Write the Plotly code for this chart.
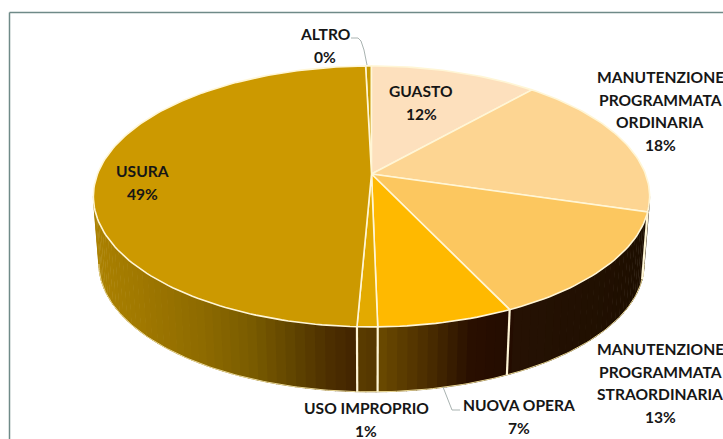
import numpy as np
import plotly.graph_objects as go

# Slices in clockwise order, starting just left of twelve o'clock
categories = ["ALTRO", "GUASTO", "MANUTENZIONE PROGRAMMATA ORDINARIA",
              "MANUTENZIONE PROGRAMMATA STRAORDINARIA", "NUOVA OPERA",
              "USO IMPROPRIO", "USURA"]
shares = [0.4, 11.5, 18.1, 13.4, 6.7, 1.0, 48.9]
top_colors = ["#c79a00", "#fde0bd", "#fdd592", "#fcc75f", "#ffb900", "#e3aa00", "#cc9900"]
label_lines = [["ALTRO"], ["GUASTO"], ["MANUTENZIONE", "PROGRAMMATA", "ORDINARIA"],
               ["MANUTENZIONE", "PROGRAMMATA", "STRAORDINARIA"], ["NUOVA OPERA"],
               ["USO IMPROPRIO"], ["USURA"]]
label_x = [325, 421, 660, 660, 519, 366, 142]
label_y = [34, 91, 77, 349, 405, 408, 171]

# Shading of the outer wall, left to right across the pie
wall_x = [92, 140, 200, 250, 300, 330, 356, 358, 377, 378, 430, 470, 511, 512, 650]
wall_rgb = [(172, 130, 0), (160, 120, 0), (142, 107, 0), (122, 92, 0), (92, 64, 0),
            (76, 46, 0), (66, 36, 0), (90, 60, 0), (85, 55, 0), (107, 74, 0),
            (74, 44, 0), (42, 16, 0), (36, 12, 0), (38, 18, 4), (30, 15, 0)]

# Projection of the tilted disc onto the page
CX, CY = 371.5, 174.0
RX, RY, TILT = 274.0, 126.6, 0.172
WALL_DROP, WALL_SCALE = 68.0, 0.98
START_PCT = -0.4
RIM = "#fff6d6"


def project(pct, drop=0.0, scale=1.0):
    t = np.radians((np.asarray(pct, dtype=float) + START_PCT) * 3.6)
    w = 1 + TILT * np.cos(t)
    return CX + scale * RX * np.sin(t) / w, CY + drop - scale * RY * np.cos(t) / w


fig = go.Figure()
common = dict(mode="lines", hoverinfo="skip", showlegend=False)
edges = np.concatenate([[0], np.cumsum(shares)])

# Wall strips, only the part of the rim that faces the viewer
tangent = np.degrees(np.arccos(-TILT))
step = 0.5
pct_start = tangent / 3.6 - START_PCT
pct_end = (360 - tangent) / 3.6 - START_PCT
strips = np.arange(pct_start, pct_end, step)
for a in strips:
    b = min(a + step + 0.05, pct_end)
    arc = np.linspace(a, b, 4)
    xt, yt = project(arc)
    xb, yb = project(arc[::-1], WALL_DROP, WALL_SCALE)
    mid = project((a + b) / 2)[0]
    rgb = [int(np.interp(mid, wall_x, [c[i] for c in wall_rgb])) for i in range(3)]
    color = f"rgb({rgb[0]},{rgb[1]},{rgb[2]})"
    fig.add_trace(go.Scatter(x=np.r_[xt, xb], y=np.r_[yt, yb], fill="toself", fillcolor=color,
                             line=dict(color=color, width=0.6), **common))

# Thin pale edge along the foot of the wall
arc = np.linspace(pct_start, pct_end, 200)
xb, yb = project(arc, WALL_DROP, WALL_SCALE)
fig.add_trace(go.Scatter(x=xb, y=yb, line=dict(color="#e9d795", width=1), **common))

# Seams on the wall where slices meet
for e in edges[1:-1]:
    if pct_start < e < pct_end:
        xt, yt = project(e)
        xb, yb = project(e, WALL_DROP, WALL_SCALE)
        fig.add_trace(go.Scatter(x=[xt, xb], y=[yt, yb], line=dict(color=RIM, width=2.2), **common))

# Top face of each slice
for i, color in enumerate(top_colors):
    arc = np.linspace(edges[i], edges[i + 1], max(4, int(shares[i] * 3)))
    x, y = project(arc)
    fig.add_trace(go.Scatter(x=np.r_[CX, x, CX], y=np.r_[CY, y, CY], fill="toself", fillcolor=color,
                             line=dict(color=RIM, width=1.6), **common))

# Leader lines for the two labels set away from their slices
fig.add_trace(go.Scatter(x=[351, 358, 361, 364, 367], y=[38, 38, 41, 50, 65],
                         line=dict(color="#a9b3b1", width=1), **common))
fig.add_trace(go.Scatter(x=[443, 452, 460], y=[387, 410, 410],
                         line=dict(color="#a9b3b1", width=1), **common))

# Labels: name lines, then the share as a rounded percentage
LINE_GAP = 22.5
text_style = dict(family="Lato, Carlito, sans-serif", size=15.6, color="#161616")
annotations = []
for lines, share, lx, ly in zip(label_lines, shares, label_x, label_y):
    for j, line in enumerate(lines + [f"{round(share)}%"]):
        annotations.append(dict(x=lx, y=ly + j * LINE_GAP, xref="x", yref="y", text=f"<b>{line}</b>",
                                showarrow=False, font=text_style, xanchor="center", yanchor="middle"))

frame = dict(type="line", xref="x", yref="y", line=dict(color="#6f8a88", width=1.5))
fig.update_layout(
    width=723, height=439, margin=dict(l=0, r=0, t=0, b=0),
    paper_bgcolor="white", plot_bgcolor="white", showlegend=False,
    xaxis=dict(range=[0, 723], visible=False, fixedrange=True),
    yaxis=dict(range=[439, 0], visible=False, fixedrange=True),
    annotations=annotations,
    shapes=[dict(frame, x0=9.5, x1=723, y0=12.5, y1=12.5), dict(frame, x0=9.5, x1=9.5, y0=12.5, y1=439)],
)
fig.write_html("out.html", config={"displayModeBar": False})
